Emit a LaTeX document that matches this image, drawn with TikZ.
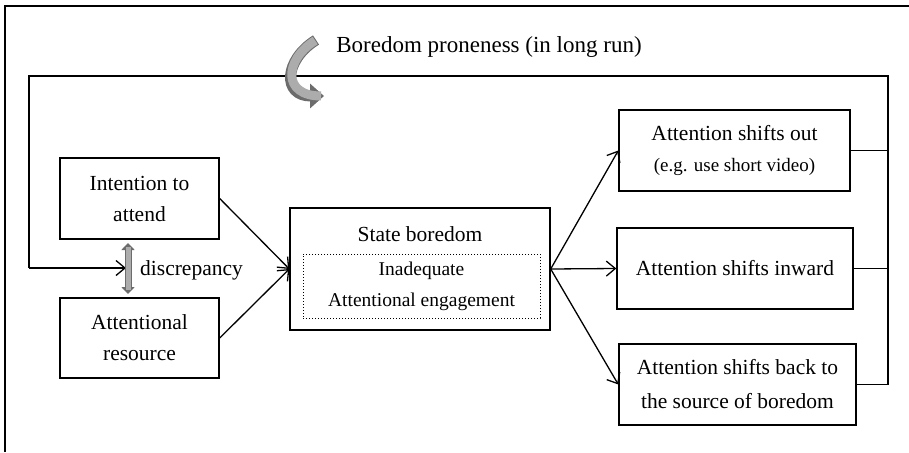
\documentclass[tikz,border=0pt]{standalone}
\usepackage{fontspec}
\setmainfont{Liberation Serif}
\usetikzlibrary{arrows.meta}
\begin{document}
\begin{tikzpicture}[x=1pt,y=-1pt,
  box/.style={draw=black,line width=1.4pt,inner sep=0pt,align=center,font=\fontsize{21.5}{31}\selectfont},
  conn/.style={line width=1.3pt,-{Straight Barb[length=9pt,width=15pt,line width=1.3pt]}},
  loop/.style={line width=1.3pt}]
\useasboundingbox (0,0) rectangle (909,452);
% frame
\draw[line width=2pt] (5,452) -- (5,6) -- (909,6);
% nodes
\node[box,minimum width=159pt,minimum height=81pt] (int) at (139.5,198.5) {Intention to\\attend};
\node[box,minimum width=159pt,minimum height=80pt] (res) at (139.5,338) {Attentional\\resource};
\node[box,minimum width=260pt,minimum height=122pt] (state) at (420,269) {};
\node[font=\fontsize{21.5}{24}\selectfont,inner sep=0pt] (statet) at (420,234) {State boredom};
\node[draw=black,line width=1pt,dotted,inner sep=0pt,minimum width=237pt,minimum height=64pt,align=center,font=\fontsize{19.5}{31}\selectfont] (inner) at (421.5,286) {Inadequate\\Attentional engagement};
\node[box,minimum width=231pt,minimum height=81pt] (b1) at (734.5,150.5) {Attention shifts out\\[0pt]{\fontsize{19}{20}\selectfont (e.g. use short video)}};
\node[box,minimum width=236pt,minimum height=81pt] (b2) at (735,268.5) {Attention shifts inward};
\node[box,minimum width=237pt,minimum height=81pt] (b3) at (737.5,384.5) {Attention shifts back to\\[3pt]the source of boredom};
\node[font=\fontsize{23}{26}\selectfont,inner sep=0pt] (bp) at (489,47) {Boredom proneness (in long run)};
\node[font=\fontsize{21.5}{24}\selectfont,inner sep=0pt,anchor=west] (disc) at (140,270) {discrepancy};
% coordinates
\coordinate (rt) at (888,76);
\coordinate (lt) at (29,76);
\coordinate (lb) at (29,268);
\coordinate (dm) at (126,268);
\coordinate (d1) at (128,243);
\coordinate (d2) at (128,294);
% connectors
\draw[conn] (int.east) -- (state.west);
\draw[conn] (res.east) -- (state.west);
\draw[conn] (state.east) -- (b1.west);
\draw[conn] (state.east) -- (b2.west);
\draw[conn] (state.east) -- (b3.west);
\draw[loop] (b1.east) -- (b1.east -| rt);
\draw[loop] (b2.east) -- (b2.east -| rt);
\draw[loop] (b3.east) -| (rt) -- (lt) -- (lb);
\draw[conn] (lb) -- (dm);
% discrepancy double arrow
\draw[gray!85!black,line width=7pt,{Triangle[length=7pt,width=13pt]}-{Triangle[length=7pt,width=13pt]}] (d1) -- (d2);
\draw[gray!65,line width=5pt,shorten <=4pt,shorten >=4pt] (d1) -- (d2);
% curved arrow
\draw[gray!85!black,line width=11pt,-{Triangle[length=14pt,width=24pt]}] (316,40) .. controls (284,60) and (282,96) .. (324,96);
\draw[gray!65,line width=9pt,shorten <=1pt,shorten >=3pt] (316,40) .. controls (284,60) and (282,96) .. (324,96);
\end{tikzpicture}
\end{document}
